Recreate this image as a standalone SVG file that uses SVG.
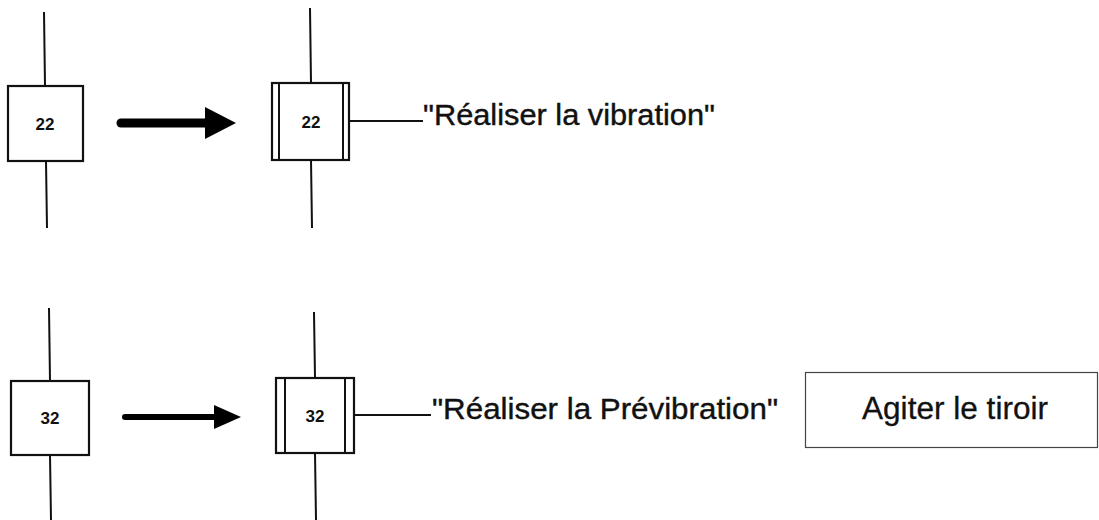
<svg xmlns="http://www.w3.org/2000/svg" width="1099" height="520" viewBox="0 0 1099 520">
<style>
.ln{stroke:#111;stroke-width:2;fill:none}
.box{stroke:#111;stroke-width:2.2;fill:#fff}
.num{font-family:"Liberation Sans",Arial,sans-serif;font-size:17px;font-weight:bold;fill:#111;text-anchor:middle}
.lbl{font-family:"Liberation Sans",Arial,sans-serif;font-size:29px;fill:#111;stroke:#111;stroke-width:0.4}
.arr{stroke:#000;stroke-linecap:round;fill:none}
</style>
<rect width="1099" height="520" fill="#fff"/>
<g id="connectors">
<line class="ln" x1="44" y1="12" x2="45" y2="86"/>
<line class="ln" x1="46" y1="161" x2="47" y2="228"/>
<line class="ln" x1="310" y1="8" x2="311" y2="83"/>
<line class="ln" x1="311" y1="160" x2="312" y2="228"/>
<line class="ln" x1="349" y1="121" x2="423" y2="121"/>
<line class="ln" x1="49" y1="308" x2="50" y2="381"/>
<line class="ln" x1="50" y1="455" x2="51" y2="520"/>
<line class="ln" x1="314" y1="312" x2="315" y2="378"/>
<line class="ln" x1="315" y1="453" x2="316" y2="520"/>
<line class="ln" x1="354" y1="415" x2="431" y2="415"/>
<line class="arr" x1="121" y1="123" x2="210" y2="123" stroke-width="9"/>
<polygon points="205,107 236,123 205,139" fill="#000"/>
<line class="arr" x1="125" y1="417" x2="218" y2="417" stroke-width="6"/>
<polygon points="214,405 241,417 214,429" fill="#000"/>
</g>
<g id="step22a">
<rect class="box" x="8" y="86" width="75" height="75"/>
<text class="num" x="45" y="130">22</text>
</g>
<g id="step22b">
<rect class="box" x="272" y="83" width="77" height="77"/>
<line class="ln" x1="279" y1="83" x2="279" y2="160"/>
<line class="ln" x1="343" y1="83" x2="343" y2="160"/>
<text class="num" x="311" y="128">22</text>
</g>
<g id="label22">
<text class="lbl" x="423" y="125" textLength="292" lengthAdjust="spacingAndGlyphs">"Réaliser la vibration"</text>
</g>
<g id="step32a">
<rect class="box" x="11" y="381" width="78" height="74"/>
<text class="num" x="50" y="424">32</text>
</g>
<g id="step32b">
<rect class="box" x="276" y="378" width="78" height="75"/>
<line class="ln" x1="285" y1="378" x2="285" y2="453"/>
<line class="ln" x1="345" y1="378" x2="345" y2="453"/>
<text class="num" x="315" y="422">32</text>
</g>
<g id="label32">
<text class="lbl" x="432" y="419" textLength="346" lengthAdjust="spacingAndGlyphs">"Réaliser la Prévibration"</text>
</g>
<g id="action">
<rect x="805.5" y="372.5" width="292" height="75" fill="#fff" stroke="#444" stroke-width="1.2"/>
<text class="lbl" x="862" y="419" textLength="186" lengthAdjust="spacingAndGlyphs" style="font-size:31px;stroke-width:0.3">Agiter le tiroir</text>
</g>
</svg>
